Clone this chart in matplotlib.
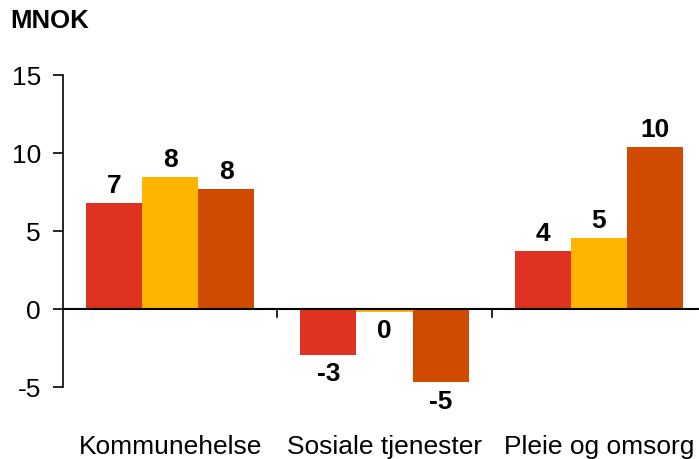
import matplotlib.pyplot as plt
import numpy as np

categories = ['Kommunehelse', 'Sosiale tjenester', 'Pleie og omsorg']
series_a = [6.8, -2.95, 3.7]
series_b = [8.45, -0.2, 4.55]
series_c = [7.7, -4.7, 10.4]
colors = ['#E03220', '#FFB400', '#D04A00']
yticks = [-5, 0, 5, 10, 15]

plt.rcParams['font.family'] = ['Liberation Sans', 'DejaVu Sans']
plt.rcParams['axes.unicode_minus'] = False

fig = plt.figure(figsize=(6.99, 4.60), dpi=100)
# axes runs a little past the right edge, like the original
ax = fig.add_axes([63 / 699, 72 / 460, 643 / 699, 312 / 460])

x = np.arange(len(categories))
w = 0.262
for i, (vals, col) in enumerate(zip([series_a, series_b, series_c], colors)):
    bars = ax.bar(x + (i - 1) * w, vals, width=w, color=col, zorder=2)
    for b, v in zip(bars, vals):
        off = 4.5 if v >= 0 else -4.5
        va = 'bottom' if v >= 0 else 'top'
        ax.annotate(f'{int(round(v))}', (b.get_x() + b.get_width() / 2, v),
                    xytext=(0, off), textcoords='offset points',
                    ha='center', va=va, fontsize=19, fontweight='bold')

ax.set_xlim(-0.5, 2.5)
ax.set_ylim(-5, 15)
ax.set_yticks(yticks)
ax.tick_params(axis='y', labelsize=19, length=7, width=1.2, pad=9)
ax.set_xticks([])
for s in ['top', 'right', 'bottom']:
    ax.spines[s].set_visible(False)
ax.spines['left'].set_linewidth(1.2)
ax.axhline(0, color='black', lw=1.5, zorder=3)
for xs in [0.5, 1.5]:
    ax.plot([xs, xs], [0, -0.5], color='black', lw=1.2, clip_on=False, zorder=3)

for xi, c in zip(x, categories):
    ax.text(xi, -8.8, c, ha='center', va='center', fontsize=19)

fig.text(10 / 699, 1 - 21 / 460, 'MNOK', fontsize=18.5, fontweight='bold',
         va='center', ha='left')

fig.savefig('out.png', dpi=100)
